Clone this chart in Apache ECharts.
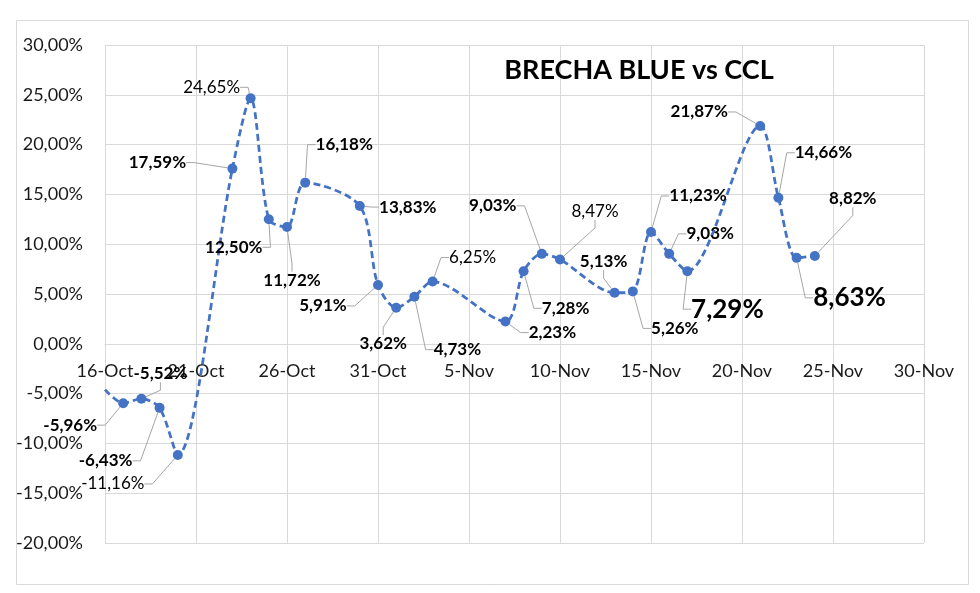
<!DOCTYPE html>
<html>
<head>
<meta charset="utf-8">
<script src="https://cdn.jsdelivr.net/npm/echarts@6/dist/echarts.min.js"></script>
<style>
html,body{margin:0;padding:0;background:#fff;}
#chart{width:980px;height:593px;}
</style>
</head>
<body>
<div id="chart"></div>
<script>
// ---- data ----
const title = 'BRECHA BLUE vs CCL';
const dates = ['2023-10-16','2023-10-17','2023-10-18','2023-10-19','2023-10-20',
  '2023-10-23','2023-10-24','2023-10-25','2023-10-26','2023-10-27',
  '2023-10-30','2023-10-31','2023-11-01','2023-11-02','2023-11-03',
  '2023-11-07','2023-11-08','2023-11-09','2023-11-10',
  '2023-11-13','2023-11-14','2023-11-15','2023-11-16','2023-11-17',
  '2023-11-21','2023-11-22','2023-11-23','2023-11-24'];
const values = [-4.6,-5.96,-5.52,-6.43,-11.16,
  17.59,24.65,12.50,11.72,16.18,
  13.83,5.91,3.62,4.73,6.25,
  2.23,7.28,9.03,8.47,
  5.13,5.26,11.23,9.03,7.29,
  21.87,14.66,8.63,8.82];
const axisStart = '2023-10-16';
const axisEnd = '2023-11-30';
const tickStepDays = 5;
const yMin = -20, yMax = 30, yStep = 5;
const monthNames = ['Jan','Feb','Mar','Apr','May','Jun','Jul','Aug','Sep','Oct','Nov','Dec'];

// ---- label styling (not data) ----
const labelOffsets = [null,[-53,22],[19,-25],[-54,53],[-65,29],[-75,-6],[-39,-11],[-35,28],[5,53],[39,-38],
  [48,1],[-55,21],[-13,36],[43,53],[40,-24],[47,11],[42,37],[-49,-48],[35,-48],[-11,-31],
  [42,37],[47,-36],[41,-20],[40,38],[-61,-14],[45,-45],[53,40],[38,-57]];
const normalWeightIdx = [4,6,14,18];
const largeIdx = [23,26];
const hiddenIdx = [0];

const DAY = 86400000;
const t0 = Date.parse(axisStart);
const dayOf = s => Math.round((Date.parse(s) - t0) / DAY);
const fmtPct = v => v.toFixed(2).replace('.', ',') + '%';
const fmtDate = d => { const dt = new Date(t0 + d * DAY); return dt.getUTCDate() + '-' + monthNames[dt.getUTCMonth()]; };

const FONT = 'Lato';
const H = 593, gridTop = 45, gridBottom = 50;
const plotH = H - gridTop - gridBottom;
const zeroOffset = -plotH * (0 - yMin) / (yMax - yMin);

const seriesData = dates.map((d, i) => {
  const item = { value: [dayOf(d), values[i]] };
  if (hiddenIdx.includes(i)) {
    item.symbol = 'none';
    item.label = { show: false };
    item.labelLine = { show: false };
  } else {
    item.label = {
      fontWeight: normalWeightIdx.includes(i) ? 'normal' : 'bold',
      fontSize: largeIdx.includes(i) ? 26 : 17
    };
  }
  return item;
});

const chart = echarts.init(document.getElementById('chart'), null, { renderer: 'canvas' });
chart.setOption({
  animation: false,
  backgroundColor: '#ffffff',
  textStyle: { fontFamily: FONT },
  title: {
    text: title, left: 634, top: 52, textAlign: 'center',
    textStyle: { fontFamily: FONT, fontWeight: 'bold', fontSize: 27, color: '#000' }
  },
  graphic: [{
    type: 'rect', left: 14, top: 18, silent: true,
    shape: { width: 952, height: 564 },
    style: { fill: 'none', stroke: '#d9d9d9', lineWidth: 1 }
  }],
  grid: { left: 105, right: 56, top: gridTop, bottom: gridBottom, containLabel: false },
  xAxis: {
    type: 'value',
    position: 'bottom',
    offset: zeroOffset,
    min: 0, max: dayOf(axisEnd), interval: tickStepDays,
    axisLine: { show: true, onZero: false, lineStyle: { color: '#d9d9d9' } },
    axisTick: { show: false },
    splitLine: { show: true, lineStyle: { color: '#d9d9d9' } },
    axisLabel: { formatter: fmtDate, fontFamily: FONT, fontSize: 18, color: '#1a1a1a', margin: 18 }
  },
  yAxis: {
    type: 'value',
    min: yMin, max: yMax, interval: yStep,
    axisLine: { show: false, onZero: false },
    axisTick: { show: false },
    splitLine: { show: true, lineStyle: { color: '#d9d9d9' } },
    axisLabel: { formatter: v => fmtPct(v), fontFamily: FONT, fontSize: 18, color: '#1a1a1a', margin: 22 }
  },
  series: [{
    type: 'line',
    data: seriesData,
    smooth: 0.3,
    symbol: 'circle',
    symbolSize: 10,
    itemStyle: { color: '#4472C4' },
    lineStyle: { color: '#4472C4', width: 2.75, type: [7, 4] },
    label: {
      show: true, position: 'inside', color: '#000',
      fontFamily: FONT, fontSize: 17, fontWeight: 'bold',
      align: 'center', verticalAlign: 'middle',
      formatter: p => fmtPct(p.value[1])
    },
    labelLine: { show: true, length2: 8, lineStyle: { color: '#a6a6a6', width: 1 } },
    labelLayout: p => {
      const o = labelOffsets[p.dataIndex];
      return o ? { dx: o[0], dy: o[1] } : {};
    }
  }]
});
</script>
</body>
</html>
